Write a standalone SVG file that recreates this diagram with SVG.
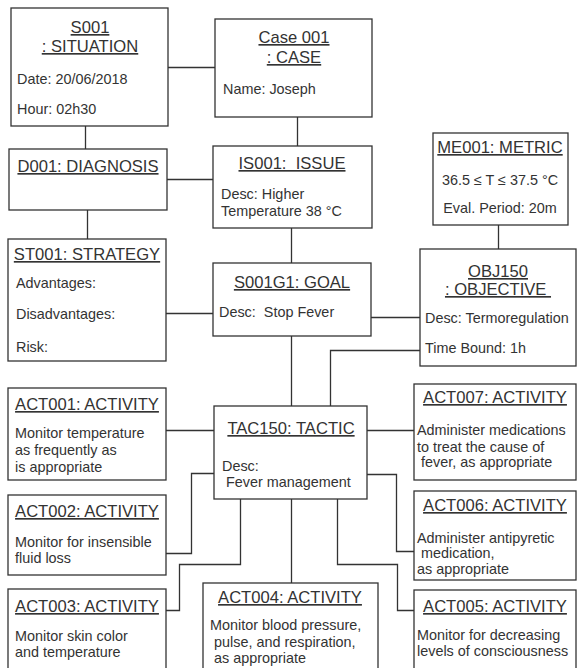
<svg xmlns="http://www.w3.org/2000/svg" width="577" height="668" viewBox="0 0 577 668">
<style>
.box{fill:#fff;stroke:#333;stroke-width:1.3}
.ln{fill:none;stroke:#333;stroke-width:1.3}
text{font-family:"Liberation Sans",Arial,sans-serif;fill:#333}
.t{font-size:16.6px;text-decoration:underline;text-anchor:middle}
.b{font-size:14.4px}
.c{text-anchor:middle}
</style>
<rect width="577" height="668" fill="#fff"/>
<g id="connectors">
<path class="ln" d="M168,67.5 H215"/>
<path class="ln" d="M85.5,126 V149"/>
<path class="ln" d="M297.5,117 V146"/>
<path class="ln" d="M167,179.5 H213"/>
<path class="ln" d="M87.5,210 V239"/>
<path class="ln" d="M291.5,228 V263"/>
<path class="ln" d="M166,313.5 H213"/>
<path class="ln" d="M371,317.5 H420"/>
<path class="ln" d="M498.5,225 V249"/>
<path class="ln" d="M420,350.5 H330.5 V406"/>
<path class="ln" d="M291.5,336 V406"/>
<path class="ln" d="M214,430.5 H166"/>
<path class="ln" d="M214,473.5 H191.5 V553.5 H166"/>
<path class="ln" d="M367,430.5 H414"/>
<path class="ln" d="M367,474.5 H396.5 V551.5 H414"/>
<path class="ln" d="M240.5,499 V564.5 H179.5 V610.5 H166"/>
<path class="ln" d="M291.5,499 V583"/>
<path class="ln" d="M337.5,499 V564.5 H397.5 V610.5 H414"/>
</g>
<g id="S001">
<rect class="box" x="11" y="8" width="157" height="118"/>
<text class="t" x="90" y="33">S001</text>
<text class="t" x="90" y="52">: SITUATION</text>
<text class="b" x="17" y="84">Date: 20/06/2018</text>
<text class="b" x="17" y="114">Hour: 02h30</text>
</g>
<g id="Case001">
<rect class="box" x="215" y="19" width="157" height="98"/>
<text class="t" x="294" y="43">Case 001</text>
<text class="t" x="294" y="63">: CASE</text>
<text class="b" x="223" y="94">Name: Joseph</text>
</g>
<g id="D001">
<rect class="box" x="9" y="149" width="158" height="61"/>
<text class="t" x="88" y="172">D001: DIAGNOSIS</text>
</g>
<g id="ST001">
<rect class="box" x="8" y="239" width="158" height="122"/>
<text class="t" x="87" y="260">ST001: STRATEGY</text>
<text class="b" x="16" y="288">Advantages:</text>
<text class="b" x="16" y="319">Disadvantages:</text>
<text class="b" x="16" y="352">Risk:</text>
</g>
<g id="IS001">
<rect class="box" x="213" y="146" width="159" height="82"/>
<text class="t" x="292" y="169" xml:space="preserve">IS001:  ISSUE</text>
<text class="b" x="221" y="199">Desc: Higher</text>
<text class="b" x="221" y="216">Temperature 38 °C</text>
</g>
<g id="S001G1">
<rect class="box" x="213" y="263" width="158" height="73"/>
<text class="t" x="292" y="288">S001G1: GOAL</text>
<text class="b" x="219" y="317" xml:space="preserve">Desc:  Stop Fever</text>
</g>
<g id="ME001">
<rect class="box" x="433" y="133" width="135" height="92"/>
<text class="t" x="500" y="153">ME001: METRIC</text>
<text class="b c" x="500" y="185">36.5 ≤ T ≤ 37.5 °C</text>
<text class="b c" x="500" y="213">Eval. Period: 20m</text>
</g>
<g id="OBJ150">
<rect class="box" x="420" y="249" width="156" height="117"/>
<text class="t" x="498" y="277">OBJ150</text>
<text class="t" x="498" y="295" xml:space="preserve">: OBJECTIVE </text>
<text class="b" x="425" y="323">Desc: Termoregulation</text>
<text class="b" x="425" y="353">Time Bound: 1h</text>
</g>
<g id="TAC150">
<rect class="box" x="214" y="406" width="153" height="93"/>
<text class="t" x="291" y="434">TAC150: TACTIC</text>
<text class="b" x="222" y="471">Desc:</text>
<text class="b" x="222" y="487" xml:space="preserve"> Fever management</text>
</g>
<g id="ACT001">
<rect class="box" x="8" y="388" width="158" height="92"/>
<text class="t" x="87" y="410">ACT001: ACTIVITY</text>
<text class="b" x="15" y="438">Monitor temperature</text>
<text class="b" x="15" y="455">as frequently as</text>
<text class="b" x="15" y="472">is appropriate</text>
</g>
<g id="ACT002">
<rect class="box" x="8" y="495" width="158" height="80"/>
<text class="t" x="87" y="517">ACT002: ACTIVITY</text>
<text class="b" x="15" y="547">Monitor for insensible</text>
<text class="b" x="15" y="563">fluid loss</text>
</g>
<g id="ACT003">
<rect class="box" x="8" y="589" width="158" height="90"/>
<text class="t" x="87" y="612">ACT003: ACTIVITY</text>
<text class="b" x="15" y="641">Monitor skin color</text>
<text class="b" x="15" y="657">and temperature</text>
</g>
<g id="ACT004">
<rect class="box" x="203" y="583" width="175" height="95"/>
<text class="t" x="290" y="603">ACT004: ACTIVITY</text>
<text class="b" x="210" y="630">Monitor blood pressure,</text>
<text class="b" x="210" y="647" xml:space="preserve"> pulse, and respiration,</text>
<text class="b" x="210" y="663" xml:space="preserve"> as appropriate</text>
</g>
<g id="ACT007">
<rect class="box" x="414" y="384" width="162" height="96"/>
<text class="t" x="495" y="403">ACT007: ACTIVITY</text>
<text class="b" x="417" y="435">Administer medications</text>
<text class="b" x="417" y="452">to treat the cause of</text>
<text class="b" x="417" y="467" xml:space="preserve"> fever, as appropriate</text>
</g>
<g id="ACT006">
<rect class="box" x="414" y="491" width="162" height="89"/>
<text class="t" x="495" y="511">ACT006: ACTIVITY</text>
<text class="b" x="417" y="543">Administer antipyretic</text>
<text class="b" x="417" y="558" xml:space="preserve"> medication,</text>
<text class="b" x="417" y="574">as appropriate</text>
</g>
<g id="ACT005">
<rect class="box" x="414" y="590" width="162" height="90"/>
<text class="t" x="495" y="612">ACT005: ACTIVITY</text>
<text class="b" x="417" y="640">Monitor for decreasing</text>
<text class="b" x="417" y="656">levels of consciousness</text>
</g>
</svg>
